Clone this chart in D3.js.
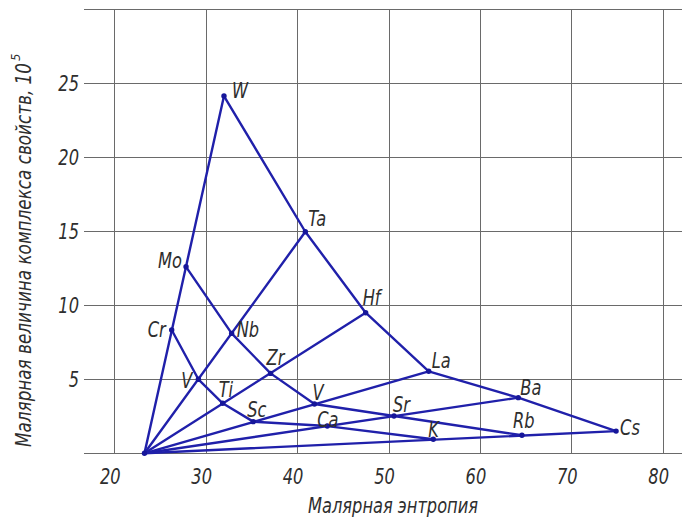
<!DOCTYPE html>
<html>
<head>
<meta charset="utf-8">
<script src="https://cdn.jsdelivr.net/npm/d3@7"></script>
<style>
  html, body { margin: 0; padding: 0; background: #fff; }
  svg { display: block; }
  .lbl { font-family: "Liberation Sans Narrow", "DejaVu Sans Condensed", "DejaVu Sans", sans-serif; font-stretch: condensed; font-style: italic; fill: #2e2e2e; }
</style>
</head>
<body>
<svg id="chart" width="682" height="519"></svg>
<script>
// ---- data ----
const elementIds = ["W","Mo","Cr","Ta","Nb","V","Hf","Zr","Ti","La","Y","Sc","Ba","Sr","Ca","Cs","Rb","K"];
const elementLabels = ["W","Mo","Cr","Ta","Nb","V","Hf","Zr","Ti","La","V","Sc","Ba","Sr","Ca","Cs","Rb","K"];
const molarEntropy = [32.0, 27.85, 26.28, 40.9, 32.84, 29.2, 47.5, 37.1, 31.86, 54.4, 41.9, 35.2, 64.2, 50.6, 43.3, 74.9, 64.6, 54.9];
const propertyComplex = [24.14, 12.6, 8.33, 14.97, 8.1, 5.0, 9.5, 5.4, 3.38, 5.54, 3.33, 2.14, 3.76, 2.52, 1.84, 1.5, 1.22, 0.95];
const originPoint = [23.3, 0];
// group rays from origin (end element)
const groupEnds = ["W","Ta","Hf","La","Ba","Cs"];
// period polylines
const period6 = ["W","Ta","Hf","La","Ba","Cs"];
const period5 = ["Mo","Nb","Zr","Y","Sr","Rb"];
const period4 = ["Cr","V","Ti","Sc","Ca","K"];
const xTicks = [20, 30, 40, 50, 60, 70, 80];
const yTicks = [5, 10, 15, 20, 25];
const yGridLines = [0, 5, 10, 15, 20, 25, 30];
const xTitle = "Малярная энтропия";
const yTitle = "Малярная величина комплекса свойств, 10";
const yTitleSup = "5";

// ---- layout ----
const svg = d3.select("#chart");
const x = d3.scaleLinear().domain([20, 80]).range([114.3, 662.7]);
const y = d3.scaleLinear().domain([0, 30]).range([453.3, 9.3]);
const gridLeft = 84, gridRight = 682;
const lineColor = "#2020aa";
const narrow = "scale(0.86,1)";

const pts = elementIds.map((id, i) => ({id, label: elementLabels[i], x: molarEntropy[i], y: propertyComplex[i]}));
const byId = Object.fromEntries(pts.map(p => [p.id, p]));

// grid
const grid = svg.append("g").attr("stroke", "#6a6a6a").attr("stroke-width", 1).attr("shape-rendering", "crispEdges");
grid.selectAll("line.h").data(yGridLines).join("line").attr("class", "h")
  .attr("x1", gridLeft).attr("x2", gridRight)
  .attr("y1", d => Math.round(y(d)) + 0.5).attr("y2", d => Math.round(y(d)) + 0.5);
grid.selectAll("line.v").data(xTicks).join("line").attr("class", "v")
  .attr("x1", d => Math.round(x(d)) + 0.5).attr("x2", d => Math.round(x(d)) + 0.5)
  .attr("y1", y(30)).attr("y2", y(0));

// tick labels
svg.append("g").selectAll("text").data(xTicks).join("text")
  .attr("class", "lbl").attr("font-size", 21)
  .attr("transform", d => `translate(${x(d) - 4},484) ${narrow}`)
  .attr("text-anchor", "middle").text(d => d);
svg.append("g").selectAll("text").data(yTicks).join("text")
  .attr("class", "lbl").attr("font-size", 21)
  .attr("transform", d => `translate(79,${y(d) + 7.5}) ${narrow}`)
  .attr("text-anchor", "end").text(d => d);

// axis titles
svg.append("text").attr("class", "lbl").attr("font-size", 21)
  .attr("x", 308).attr("y", 513).attr("textLength", 170).attr("lengthAdjust", "spacingAndGlyphs")
  .text(xTitle);
const yt = svg.append("text").attr("class", "lbl").attr("font-size", 21)
  .attr("transform", "translate(31,447) rotate(-90)");
yt.append("tspan").attr("textLength", 384).attr("lengthAdjust", "spacingAndGlyphs").text(yTitle);
yt.append("tspan").attr("font-size", 13).attr("dy", -11).attr("dx", 2).text(yTitleSup);

// lines
const lineGen = d3.line().x(d => x(d.x)).y(d => y(d.y));
const origin = {x: originPoint[0], y: originPoint[1]};
const lines = svg.append("g").attr("fill", "none").attr("stroke", lineColor)
  .attr("stroke-width", 2.4).attr("stroke-linejoin", "round").attr("stroke-linecap", "round");
groupEnds.forEach(id => lines.append("path").attr("d", lineGen([origin, byId[id]])));
[period6, period5, period4].forEach(p => lines.append("path").attr("d", lineGen(p.map(id => byId[id]))));

// points
svg.append("g").selectAll("circle").data(pts.concat([origin])).join("circle")
  .attr("cx", d => x(d.x)).attr("cy", d => y(d.y)).attr("r", 2.7).attr("fill", "#16169a");

// labels (offsets in px: dx, dy, anchor)
const labelStyle = {
  W:[8,2,"start"], Mo:[-4,1,"end"], Cr:[-6,7,"end"], Ta:[3,-6,"start"], Nb:[5,4,"start"],
  V:[-6,9,"end"], Hf:[-3,-8,"start"], Zr:[-4,-8,"start"], Ti:[-4,-6,"start"], La:[3,-3,"start"],
  Y:[-2,-4,"start"], Sc:[-6,-5,"start"], Ba:[2,-3,"start"], Sr:[-1,-4,"start"], Ca:[-10,1,"start"],
  Cs:[4,4,"start"], Rb:[-9,-7,"start"], K:[-5,-2,"start"]
};
svg.append("g").selectAll("text").data(pts).join("text")
  .attr("class", "lbl").attr("font-size", 21)
  .attr("transform", d => `translate(${x(d.x) + labelStyle[d.id][0]},${y(d.y) + labelStyle[d.id][1]}) ${narrow}`)
  .attr("text-anchor", d => labelStyle[d.id][2])
  .text(d => d.label);
</script>
</body>
</html>
